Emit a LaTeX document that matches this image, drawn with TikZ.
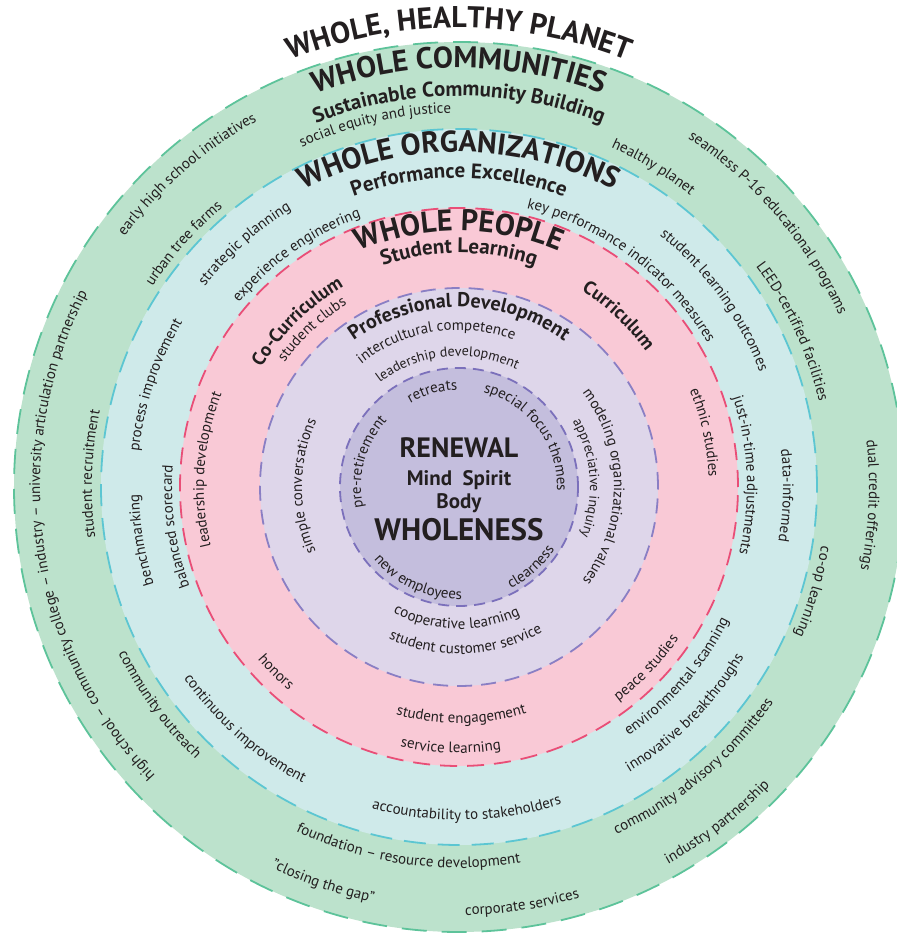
\documentclass[tikz,border=0pt]{standalone}
\usepackage{fontspec}
\setmainfont{PT Sans}
\usetikzlibrary{decorations.text}

\definecolor{greenfill}{HTML}{BCE2CC}
\definecolor{greenline}{HTML}{5DC39A}
\definecolor{bluefill}{HTML}{CFEAEA}
\definecolor{blueline}{HTML}{5CC6D2}
\definecolor{pinkfill}{HTML}{F9C9D6}
\definecolor{pinkline}{HTML}{E94E77}
\definecolor{lavfill}{HTML}{DED6EA}
\definecolor{lavline}{HTML}{8A7FC4}
\definecolor{corefill}{HTML}{C4BEDD}
\definecolor{coreline}{HTML}{7B70BB}
\definecolor{ink}{HTML}{231F20}

\newcommand\ftitle{\fontsize{30}{30}\selectfont\bfseries}
\newcommand\fsub{\fontsize{21}{21}\selectfont\bfseries}
\newcommand\fhead{\fontsize{19}{19}\selectfont\bfseries}
\newcommand\fsmall{\fontsize{15}{15}\selectfont}
\newcommand\ftiny{\fontsize{14}{14}\selectfont}

\tikzset{
  ring/.style={line width=1.8pt,dash pattern=#1},
  ontext/.style={decorate,decoration={text along path,text align=center,text color=ink,text={#1}}}
}

% #1 radius, #2 middle angle, #3 font, #4 text
\newcommand\cwtext[4]{\path[ontext={|#3|#4}] ({#2+80}:#1) arc[start angle={#2+80},end angle={#2-80},radius=#1];}
\newcommand\ccwtext[4]{\path[ontext={|#3|#4}] ({#2-80}:#1) arc[start angle={#2-80},end angle={#2+80},radius=#1];}

\begin{document}
\begin{tikzpicture}[x=1pt,y=1pt]
  \useasboundingbox (-459,-448) rectangle (438,487);

  \draw[fill=greenfill,draw=greenline,ring={on 25pt off 15pt}] (0,0) circle[radius=445];
  \draw[fill=bluefill,draw=blueline,ring={on 22pt off 12pt}] (0,0) circle[radius=358];
  \draw[fill=pinkfill,draw=pinkline,ring={on 17pt off 10pt}] (0,0) circle[radius=279];
  \draw[fill=lavfill,draw=lavline,ring={on 15pt off 9pt}] (0,0) circle[radius=199];
  \draw[fill=corefill,draw=coreline,ring={on 11pt off 7pt}] (0,0) circle[radius=119];

  % whole communities
  \cwtext{459}{90}{\ftitle}{WHOLE, HEALTHY PLANET}
  \cwtext{419}{90}{\ftitle}{WHOLE COMMUNITIES}
  \cwtext{391}{90}{\fsub}{Sustainable Community Building}
  \cwtext{374}{103}{\fsmall}{social equity and justice}
  \cwtext{418}{131}{\fsmall}{early high school initiatives}
  \cwtext{366}{138.5}{\fsmall}{urban tree farms}
  \cwtext{372}{58.7}{\fsmall}{healthy planet}
  \cwtext{417}{40.5}{\fsmall}{seamless P-16 educational programs}
  \cwtext{370}{25}{\fsmall}{LEED-certified facilities}
  \cwtext{410}{-2.5}{\fsmall}{dual credit offerings}
  \cwtext{367}{-16.5}{\fsmall}{co-op learning}
  \cwtext{367}{178}{\fsmall}{student recruitment}
  \cwtext{419}{188}{\fsmall}{high school – community college – industry – university articulation partnership}
  \ccwtext{379}{216}{\fsmall}{community outreach}
  \ccwtext{381}{262}{\fsmall}{foundation – resource development}
  \ccwtext{424}{251}{\fsmall}{"closing the gap"}
  \ccwtext{428}{278.6}{\fsmall}{corporate services}
  \ccwtext{431}{307.6}{\fsmall}{industry partnership}
  \ccwtext{381}{310}{\fsmall}{community advisory committees}

  % whole organizations
  \cwtext{335}{90}{\ftitle}{WHOLE ORGANIZATIONS}
  \cwtext{309}{90}{\fsub}{Performance Excellence}
  \cwtext{324}{131.4}{\fsmall}{strategic planning}
  \cwtext{287}{125}{\fsmall}{experience engineering}
  \cwtext{322}{161.4}{\fsmall}{process improvement}
  \cwtext{287}{53.2}{\fsmall}{key performance indicator measures}
  \cwtext{322}{36.2}{\fsmall}{student learning outcomes}
  \cwtext{288}{2.3}{\fsmall}{just-in-time adjustments}
  \cwtext{324}{-1.5}{\fsmall}{data-informed}
  \cwtext{320}{189.5}{\fsmall}{benchmarking}
  \cwtext{287}{188}{\fsmall}{balanced scorecard}
  \ccwtext{335}{228.5}{\fsmall}{continuous improvement}
  \ccwtext{333}{271.4}{\fsmall}{accountability to stakeholders}
  \ccwtext{301}{319}{\fsmall}{environmental scanning}
  \ccwtext{332}{315}{\fsmall}{innovative breakthroughs}

  % whole people
  \cwtext{256}{90}{\ftitle}{WHOLE PEOPLE}
  \cwtext{234}{90}{\fsub}{Student Learning}
  \cwtext{231}{134.3}{\fhead}{Co-Curriculum}
  \cwtext{214}{133}{\fsmall}{student clubs}
  \cwtext{231}{47}{\fhead}{Curriculum}
  \cwtext{250}{12.5}{\fsmall}{ethnic studies}
  \cwtext{255}{176}{\fsmall}{leadership development}
  \ccwtext{265}{225.3}{\fsmall}{honors}
  \ccwtext{236}{270.6}{\fsmall}{student engagement}
  \ccwtext{266}{268.2}{\fsmall}{service learning}
  \ccwtext{267}{316}{\fsmall}{peace studies}

  % professional development
  \cwtext{180}{90}{\fontsize{20}{20}\selectfont\bfseries}{Professional Development}
  \cwtext{157}{99}{\fsmall}{intercultural competence}
  \cwtext{131}{95.5}{\ftiny}{leadership development}
  \cwtext{155}{0}{\fsmall}{modeling organizational values}
  \cwtext{131}{4}{\ftiny}{appreciative inquiry}
  \cwtext{157}{179.7}{\fsmall}{simple conversations}
  \ccwtext{142}{269}{\fsmall}{cooperative learning}
  \ccwtext{167}{272.6}{\fsmall}{student customer service}

  % renewal
  \cwtext{97}{105.5}{\fsmall}{retreats}
  \cwtext{98}{36.6}{\fsmall}{special focus themes}
  \cwtext{98}{164.7}{\fsmall}{pre-retirement}
  \ccwtext{112}{246}{\fsmall}{new employees}
  \ccwtext{114}{312}{\fsmall}{clearness}

  \begin{scope}[every node/.style={text=ink,inner sep=0pt,anchor=base}]
    \node[font=\fontsize{28}{28}\selectfont\bfseries] (renewal) at (0,30) {RENEWAL};
    \node[font=\fsub] (mindspirit) at (0,2) {Mind\hspace{0.5em}Spirit};
    \node[font=\fsub] (body) at (0,-21) {Body};
    \node[font=\fontsize{31}{31}\selectfont\bfseries] (wholeness) at (0,-53) {WHOLENESS};
  \end{scope}

\end{tikzpicture}
\end{document}
